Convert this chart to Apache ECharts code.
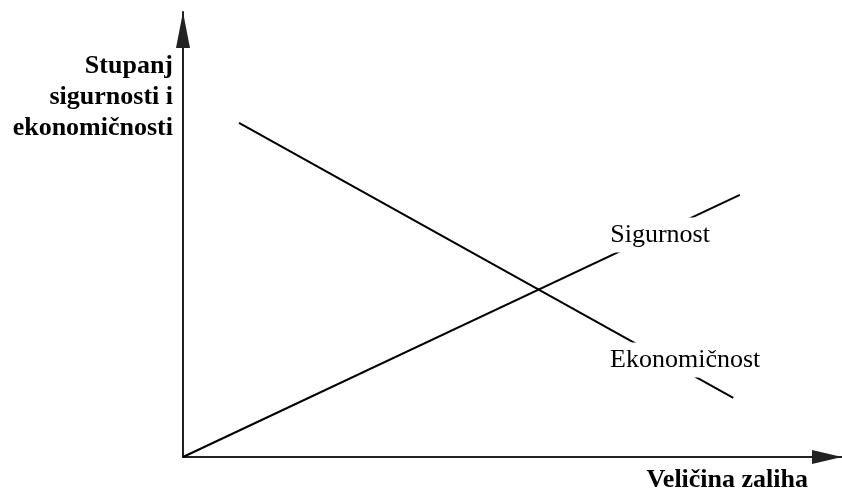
<!DOCTYPE html>
<html>
<head>
<meta charset="utf-8">
<script src="https://cdn.jsdelivr.net/npm/echarts@6/dist/echarts.min.js"></script>
<style>html,body{margin:0;padding:0;background:#fff}#c{width:842px;height:492px}</style>
</head>
<body>
<div id="c"></div>
<script>
// Data (abstract units 0..100 on both axes)
const seriesNames = ['Sigurnost', 'Ekonomičnost'];
const sigurnostX = [0, 84.5];
const sigurnostY = [0, 58.9];
const ekonomicnostX = [8.5, 83.5];
const ekonomicnostY = [75.1, 13.3];
// where each series name is written on the chart (data space)
const labelX = [72.4, 76.2];
const labelY = [49.9, 21.8];
const yAxisTitle = 'Stupanj\nsigurnosti i\nekonomičnosti';
const xAxisTitle = 'Veličina zaliha';

const pairs = (xs, ys) => xs.map((x, i) => [x, ys[i]]);
const font = "'Liberation Serif', 'Times New Roman', serif";

const chart = echarts.init(document.getElementById('c'));
chart.setOption({
  animation: false,
  backgroundColor: '#fff',
  grid: { left: 183, top: 12, right: 0, bottom: 35 },
  xAxis: {
    type: 'value', min: 0, max: 100,
    axisLine: { show: true, symbol: ['none', 'triangle'], symbolSize: [14, 30], symbolOffset: [0, -15],
      lineStyle: { color: '#222', width: 2 } },
    axisTick: { show: false }, axisLabel: { show: false }, splitLine: { show: false }
  },
  yAxis: {
    type: 'value', min: 0, max: 100,
    axisLine: { show: true, symbol: ['none', 'triangle'], symbolSize: [14, 36], symbolOffset: [0, -18],
      lineStyle: { color: '#222', width: 2 } },
    axisTick: { show: false }, axisLabel: { show: false }, splitLine: { show: false }
  },
  series: [
    { name: seriesNames[0], type: 'line', data: pairs(sigurnostX, sigurnostY), symbol: 'none',
      lineStyle: { color: '#000', width: 2 }, z: 2 },
    { name: seriesNames[1], type: 'line', data: pairs(ekonomicnostX, ekonomicnostY), symbol: 'none',
      lineStyle: { color: '#000', width: 2 }, z: 2 },
    { type: 'scatter', symbolSize: 1, itemStyle: { color: '#fff', opacity: 1 }, z: 5, silent: true,
      data: seriesNames.map((n, i) => ({ value: [labelX[i], labelY[i]], name: n })),
      label: { show: true, position: 'inside', formatter: p => p.name,
        fontFamily: font, fontSize: 26, color: '#000', backgroundColor: '#fff',
        padding: [3, 3], lineHeight: 29 }
    }
  ],
  graphic: [
    { type: 'text', x: 173, y: 97.5, z: 10,
      style: { text: yAxisTitle, align: 'right', verticalAlign: 'middle', fontFamily: font,
        fontWeight: 'bold', fontSize: 26, lineHeight: 31, fill: '#000' } },
    { type: 'text', x: 808, y: 480, z: 10,
      style: { text: xAxisTitle, align: 'right', verticalAlign: 'middle', fontFamily: font,
        fontWeight: 'bold', fontSize: 26, fill: '#000' } }
  ]
});
</script>
</body>
</html>
